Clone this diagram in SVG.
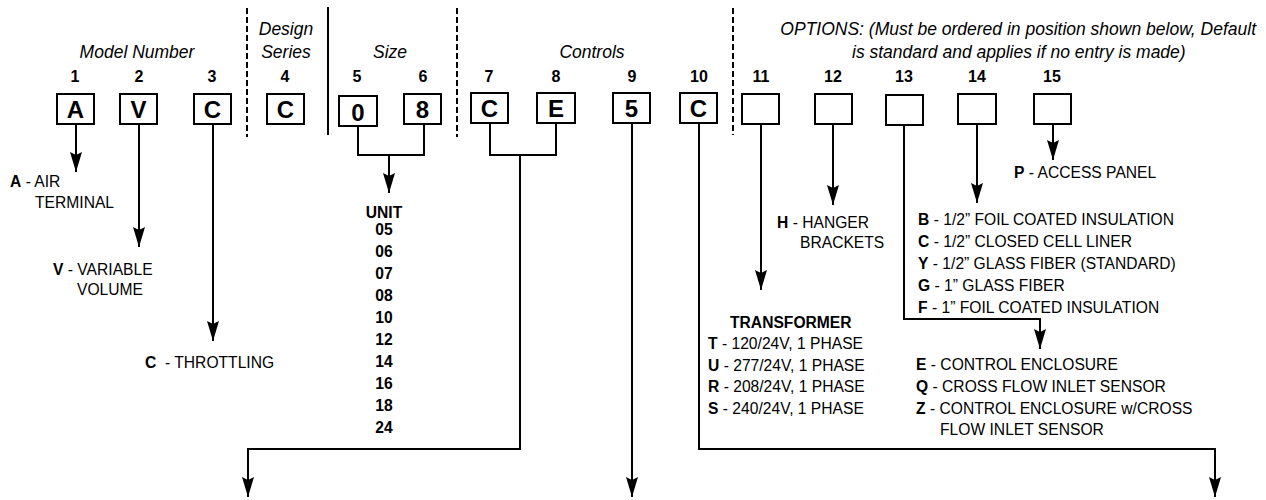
<svg xmlns="http://www.w3.org/2000/svg" width="1266" height="500" viewBox="0 0 1266 500">
<style>
.box{fill:#fff;stroke:#000;stroke-width:2}
.ln{fill:none;stroke:#000;stroke-width:2}
.dash{fill:none;stroke:#000;stroke-width:2;stroke-dasharray:6 3}
.hd{font-family:"Liberation Sans",Arial,sans-serif;font-style:italic;font-size:17.5px;fill:#000}
.num{font-family:"Liberation Sans",Arial,sans-serif;font-weight:bold;font-size:16px;fill:#000;text-anchor:middle}
.let{font-family:"Liberation Sans",Arial,sans-serif;font-weight:bold;font-size:24px;fill:#000;text-anchor:middle}
.lab{font-family:"Liberation Sans",Arial,sans-serif;font-size:17px;fill:#000}
.b{font-weight:bold}
.unit{font-family:"Liberation Sans",Arial,sans-serif;font-weight:bold;font-size:17px;fill:#000;text-anchor:middle}
</style>
<defs>
<marker id="ah" viewBox="0 0 20 12" refX="20" refY="6" markerWidth="20" markerHeight="12" orient="auto" markerUnits="userSpaceOnUse">
<path d="M0,0 L20,6 L0,12 L3,6 z" fill="#000"/>
</marker>
</defs>
<rect width="1266" height="500" fill="#fff"/>

<g id="headings">
<text class="hd" x="137" y="58" text-anchor="middle">Model Number</text>
<text class="hd" x="286" y="35" text-anchor="middle">Design</text>
<text class="hd" x="286" y="58" text-anchor="middle">Series</text>
<text class="hd" x="390" y="58" text-anchor="middle">Size</text>
<text class="hd" x="592" y="58" text-anchor="middle">Controls</text>
<text class="hd" x="1256" y="35" text-anchor="end">OPTIONS: (Must be ordered in position shown below, Default</text>
<text class="hd" x="852" y="58">is standard and applies if no entry is made)</text>
</g>

<g id="dividers">
<line class="dash" x1="247" y1="8" x2="247" y2="137"/>
<line class="ln" x1="328" y1="7" x2="328" y2="135" stroke-width="2.5"/>
<line class="dash" x1="457" y1="8" x2="457" y2="137"/>
<line class="dash" x1="733" y1="8" x2="733" y2="135"/>
</g>

<g id="connectors">
<path class="ln" d="M76,124 V172" marker-end="url(#ah)"/>
<path class="ln" d="M139,124 V247" marker-end="url(#ah)"/>
<path class="ln" d="M213,124 V341" marker-end="url(#ah)"/>
<path class="ln" d="M358,126 V155 H424 V124"/>
<path class="ln" d="M389,155 V193" marker-end="url(#ah)"/>
<path class="ln" d="M490,123 V155 H556 V123"/>
<path class="ln" d="M520,155 V449 H248 V497" marker-end="url(#ah)"/>
<path class="ln" d="M632,123 V497" marker-end="url(#ah)"/>
<path class="ln" d="M699,123 V449 H1215 V497" marker-end="url(#ah)"/>
<path class="ln" d="M761,124 V290" marker-end="url(#ah)"/>
<path class="ln" d="M833,124 V205" marker-end="url(#ah)"/>
<path class="ln" d="M904,125 V319 H1040 V349" marker-end="url(#ah)"/>
<path class="ln" d="M977,124 V203" marker-end="url(#ah)"/>
<path class="ln" d="M1053,124 V160" marker-end="url(#ah)"/>
</g>

<g id="pos1"><text class="num" x="75" y="82">1</text><rect class="box" x="57" y="94" width="37" height="30"/><text class="let" x="75.5" y="118">A</text></g>
<g id="pos2"><text class="num" x="139" y="82">2</text><rect class="box" x="120" y="94" width="37" height="30"/><text class="let" x="138.5" y="118">V</text></g>
<g id="pos3"><text class="num" x="212" y="82">3</text><rect class="box" x="194" y="94" width="37" height="30"/><text class="let" x="212.5" y="118">C</text></g>
<g id="pos4"><text class="num" x="285" y="82">4</text><rect class="box" x="267" y="94" width="37" height="30"/><text class="let" x="285.5" y="118">C</text></g>
<g id="pos5"><text class="num" x="357" y="82">5</text><rect class="box" x="339" y="96" width="38" height="30"/><text class="let" x="358" y="121">0</text></g>
<g id="pos6"><text class="num" x="423" y="82">6</text><rect class="box" x="404" y="94" width="37" height="30"/><text class="let" x="422.5" y="118">8</text></g>
<g id="pos7"><text class="num" x="489" y="82">7</text><rect class="box" x="471" y="93" width="37" height="30"/><text class="let" x="489.5" y="117">C</text></g>
<g id="pos8"><text class="num" x="556" y="82">8</text><rect class="box" x="537" y="93" width="38" height="30"/><text class="let" x="556" y="117">E</text></g>
<g id="pos9"><text class="num" x="632" y="82">9</text><rect class="box" x="613" y="93" width="37" height="30"/><text class="let" x="631.5" y="117">5</text></g>
<g id="pos10"><text class="num" x="699" y="82">10</text><rect class="box" x="680" y="93" width="37" height="30"/><text class="let" x="698.5" y="117">C</text></g>
<g id="pos11"><text class="num" x="761" y="82">11</text><rect class="box" x="742" y="94" width="37" height="30"/></g>
<g id="pos12"><text class="num" x="833" y="82">12</text><rect class="box" x="815" y="94" width="37" height="30"/></g>
<g id="pos13"><text class="num" x="904" y="82">13</text><rect class="box" x="886" y="95" width="37" height="30"/></g>
<g id="pos14"><text class="num" x="977" y="82">14</text><rect class="box" x="958" y="94" width="38" height="30"/></g>
<g id="pos15"><text class="num" x="1052" y="82">15</text><rect class="box" x="1034" y="94" width="37" height="30"/></g>

<g id="opt1">
<text class="lab" transform="translate(10,187) scale(0.92,1)"><tspan class="b">A</tspan> - AIR</text>
<text class="lab" transform="translate(35,208) scale(0.92,1)">TERMINAL</text>
</g>
<g id="opt2">
<text class="lab" transform="translate(53,275) scale(0.92,1)"><tspan class="b">V</tspan> - VARIABLE</text>
<text class="lab" transform="translate(77,295) scale(0.92,1)">VOLUME</text>
</g>
<g id="opt3">
<text class="lab" transform="translate(145,368) scale(0.92,1)" xml:space="preserve"><tspan class="b">C</tspan>  - THROTTLING</text>
</g>
<g id="opt56">
<g transform="translate(384,0) scale(0.92,1)">
<text class="unit" x="0" y="218">UNIT</text>
<text class="unit" x="0" y="235">05</text>
<text class="unit" x="0" y="257">06</text>
<text class="unit" x="0" y="279">07</text>
<text class="unit" x="0" y="301">08</text>
<text class="unit" x="0" y="323">10</text>
<text class="unit" x="0" y="345">12</text>
<text class="unit" x="0" y="367">14</text>
<text class="unit" x="0" y="389">16</text>
<text class="unit" x="0" y="411">18</text>
<text class="unit" x="0" y="433">24</text>
</g>
</g>
<g id="opt11">
<text class="lab b" transform="translate(730,328) scale(0.92,1)">TRANSFORMER</text>
<text class="lab" transform="translate(708,349) scale(0.92,1)"><tspan class="b">T</tspan> - 120/24V, 1 PHASE</text>
<text class="lab" transform="translate(708,371) scale(0.92,1)"><tspan class="b">U</tspan> - 277/24V, 1 PHASE</text>
<text class="lab" transform="translate(708,392) scale(0.92,1)"><tspan class="b">R</tspan> - 208/24V, 1 PHASE</text>
<text class="lab" transform="translate(708,414) scale(0.92,1)"><tspan class="b">S</tspan> - 240/24V, 1 PHASE</text>
</g>
<g id="opt12">
<text class="lab" transform="translate(777,228) scale(0.92,1)"><tspan class="b">H</tspan> - HANGER</text>
<text class="lab" transform="translate(800,248) scale(0.92,1)">BRACKETS</text>
</g>
<g id="opt13">
<text class="lab" transform="translate(916,370) scale(0.92,1)"><tspan class="b">E</tspan> - CONTROL ENCLOSURE</text>
<text class="lab" transform="translate(916,392) scale(0.92,1)"><tspan class="b">Q</tspan> - CROSS FLOW INLET SENSOR</text>
<text class="lab" transform="translate(916,414) scale(0.92,1)"><tspan class="b">Z</tspan> - CONTROL ENCLOSURE w/CROSS</text>
<text class="lab" transform="translate(940,435) scale(0.92,1)">FLOW INLET SENSOR</text>
</g>
<g id="opt14">
<text class="lab" transform="translate(918,225) scale(0.92,1)"><tspan class="b">B</tspan> - 1/2” FOIL COATED INSULATION</text>
<text class="lab" transform="translate(918,247) scale(0.92,1)"><tspan class="b">C</tspan> - 1/2” CLOSED CELL LINER</text>
<text class="lab" transform="translate(918,269) scale(0.92,1)"><tspan class="b">Y</tspan> - 1/2” GLASS FIBER (STANDARD)</text>
<text class="lab" transform="translate(918,291) scale(0.92,1)"><tspan class="b">G</tspan> - 1” GLASS FIBER</text>
<text class="lab" transform="translate(918,313) scale(0.92,1)"><tspan class="b">F</tspan> - 1” FOIL COATED INSULATION</text>
</g>
<g id="opt15">
<text class="lab" transform="translate(1014,178) scale(0.92,1)"><tspan class="b">P</tspan> - ACCESS PANEL</text>
</g>
</svg>
